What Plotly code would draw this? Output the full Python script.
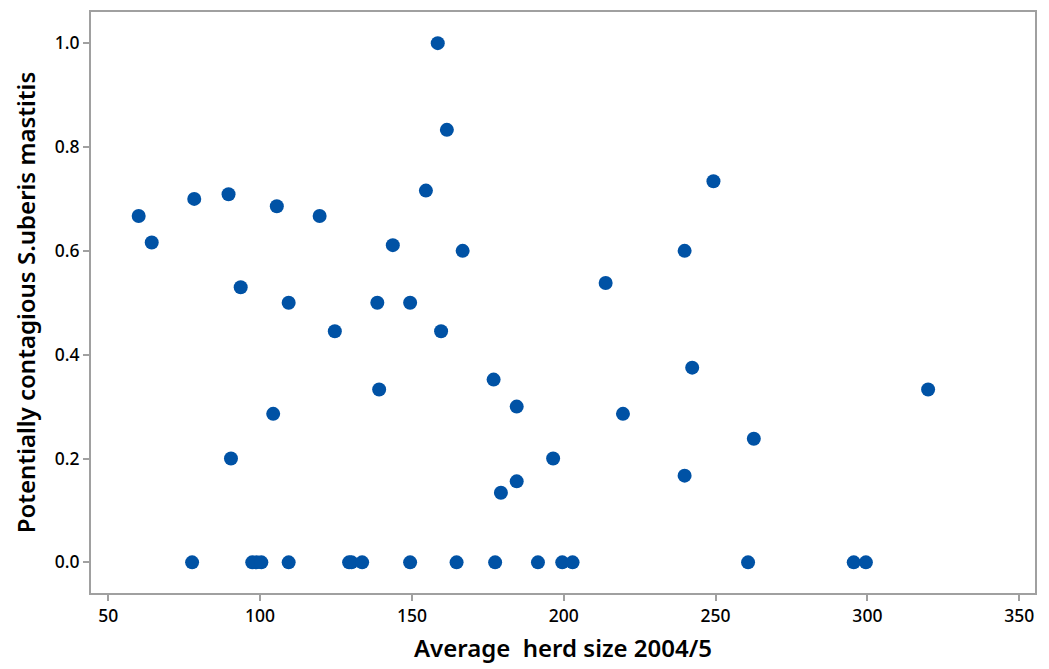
import plotly.graph_objects as go

# Average herd size 2004/5 and proportion of potentially contagious S.uberis mastitis
herd_size = [
    60, 64.3, 78.3, 89.6, 93.6, 105.5, 119.6, 143.7, 109.4, 138.6,
    124.6, 139.2, 104.3, 90.4, 158.5, 161.5, 154.6, 249.3, 166.7, 239.8,
    213.8, 149.4, 159.6, 242.3, 176.9, 184.5, 219.5, 196.5, 184.5, 179.3,
    239.8, 320, 262.6,
    77.6, 97.4, 98.8, 100.4, 109.4, 129.3, 130.1, 133.6, 149.4, 164.7,
    177.4, 191.5, 199.5, 202.9, 260.7, 295.5, 299.5,
]
contagious = [
    0.667, 0.616, 0.700, 0.709, 0.530, 0.686, 0.667, 0.611, 0.500, 0.500,
    0.445, 0.333, 0.286, 0.200, 1.000, 0.833, 0.716, 0.734, 0.600, 0.600,
    0.538, 0.500, 0.445, 0.375, 0.352, 0.300, 0.286, 0.200, 0.156, 0.134,
    0.167, 0.333, 0.238,
    0, 0, 0, 0, 0, 0, 0, 0, 0, 0,
    0, 0, 0, 0, 0, 0, 0,
]

x_ticks = [50, 100, 150, 200, 250, 300, 350]
y_ticks = [0.0, 0.2, 0.4, 0.6, 0.8, 1.0]

axis_color = "#a0a0a0"
font_family = "Noto Sans"

fig = go.Figure(
    go.Scatter(
        x=herd_size,
        y=contagious,
        mode="markers",
        marker=dict(size=14, color="#0052a5", line=dict(width=0)),
        hoverinfo="x+y",
    )
)

fig.update_layout(
    width=1049,
    height=669,
    margin=dict(l=91, r=14, t=10, b=76),
    paper_bgcolor="white",
    plot_bgcolor="white",
    showlegend=False,
    font=dict(family=font_family, color="black"),
)

fig.update_xaxes(
    range=[44.3, 355.2],
    tickvals=x_ticks,
    ticktext=[str(v) for v in x_ticks],
    ticks="outside",
    ticklen=6,
    tickcolor=axis_color,
    tickwidth=1.5,
    showline=True,
    linecolor=axis_color,
    linewidth=2,
    mirror=True,
    showgrid=False,
    zeroline=False,
    tickfont=dict(size=17.5, family=font_family, weight=500),
    title=dict(
        text="Average&nbsp;&nbsp;herd size 2004/5",
        font=dict(size=24, family=font_family, weight=600),
        standoff=14,
    ),
)

fig.update_yaxes(
    range=[-0.059, 1.060],
    tickvals=y_ticks,
    ticktext=[f"{v:.1f}" for v in y_ticks],
    ticks="outside",
    ticklen=6,
    tickcolor=axis_color,
    tickwidth=1.5,
    showline=True,
    linecolor=axis_color,
    linewidth=2,
    mirror=True,
    showgrid=False,
    zeroline=False,
    tickfont=dict(size=17.5, family=font_family, weight=500),
    title=dict(
        text="Potentially contagious S.uberis mastitis",
        font=dict(size=24, family=font_family, weight=600),
        standoff=12,
    ),
)

fig.write_html("out.html")
